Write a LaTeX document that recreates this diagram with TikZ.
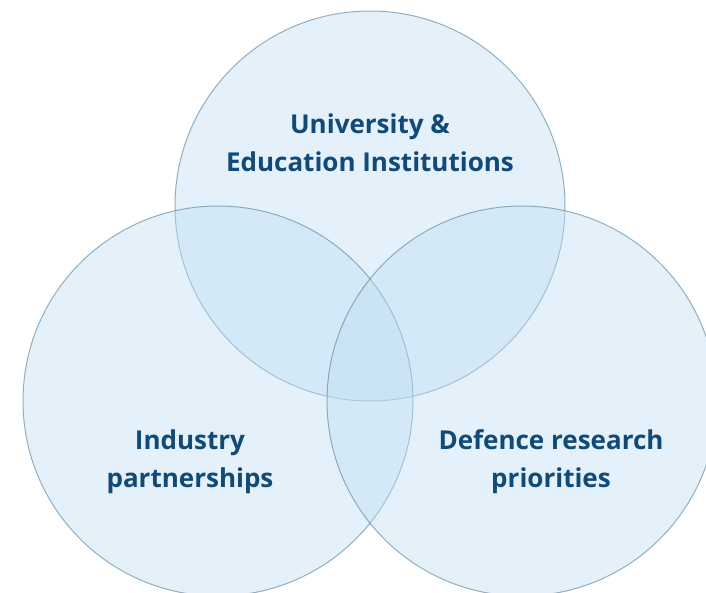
\documentclass[tikz,border=0pt]{standalone}
\usepackage{fontspec}
\setmainfont{Open Sans}
\definecolor{cfill}{RGB}{189,221,243}
\definecolor{cedge}{RGB}{95,135,165}
\definecolor{ctext}{RGB}{16,74,122}
\tikzset{
  venn/.style={fill=cfill, fill opacity=0.4, draw=cedge, draw opacity=0.65, line width=1pt},
  lab/.style={text=ctext, font=\fontsize{26}{38}\selectfont\bfseries, align=center, inner sep=0pt}
}
\begin{document}
\begin{tikzpicture}[x=1pt,y=-1pt]
\useasboundingbox (0,0) rectangle (706,593);
\clip (0,0) rectangle (706,593);
\fill[white] (0,0) rectangle (706,593);
\path[venn] (370,206) circle[radius=195] node (top) {};
\path[venn] (218,401) circle[radius=195] node (left) {};
\path[venn] (522,401) circle[radius=195] node (right) {};
\node[lab] (ttop) at (370,143) {University \&\\Education Institutions};
\node[lab] (tleft) at (190,461.5) {Industry\\partnerships};
\node[lab] (tright) at (551,461.5) {Defence research\\priorities};
\end{tikzpicture}
\end{document}
